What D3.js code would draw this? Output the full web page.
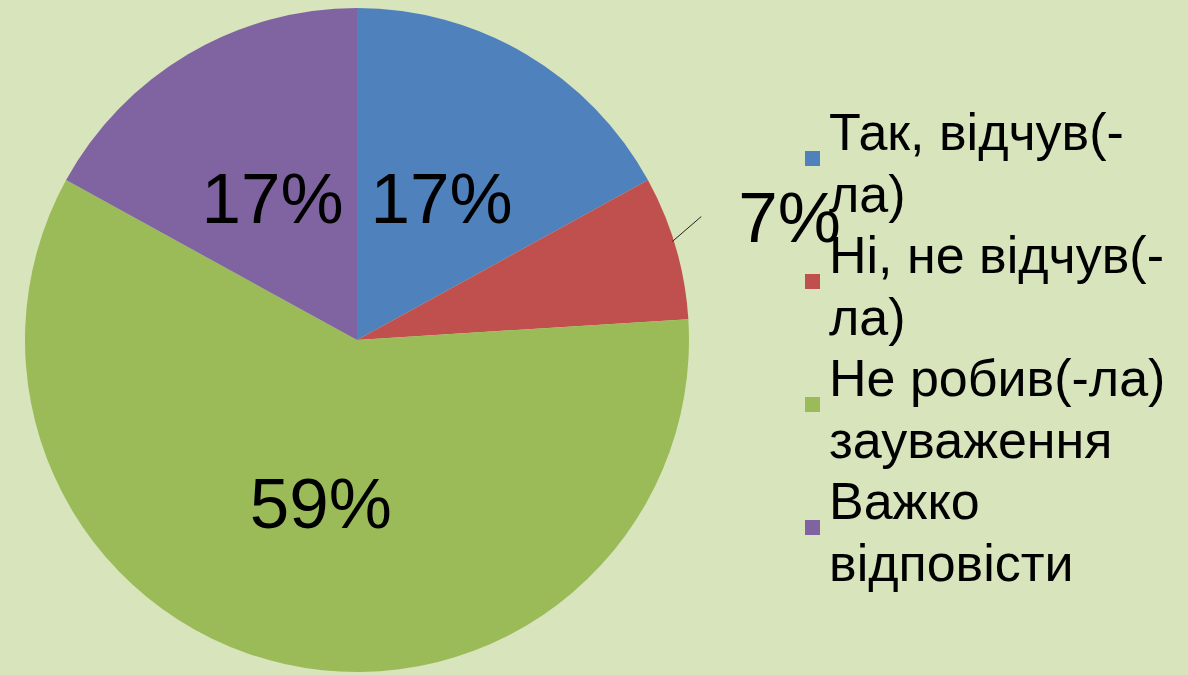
<!DOCTYPE html>
<html>
<head>
<meta charset="utf-8">
<script src="https://cdn.jsdelivr.net/npm/d3@7"></script>
<style>
  html, body { margin: 0; padding: 0; background: #d8e4bc; }
  svg { display: block; }
</style>
</head>
<body>
<div id="chart"></div>
<script>
// data
var categories = ["Так, відчув(-ла)", "Ні, не відчув(-ла)", "Не робив(-ла) зауваження", "Важко відповісти"];
var values = [17, 7, 59, 17];
var legendLines = [["Так, відчув(-", "ла)"], ["Ні, не відчув(-", "ла)"], ["Не робив(-ла)", "зауваження"], ["Важко", "відповісти"]];
var colors = ["#4f81bd", "#c0504d", "#9bbb59", "#8064a2"];

var width = 1188, height = 675;
var cx = 357, cy = 340, radius = 332;
var font = "Liberation Sans, Arial, sans-serif";

var svg = d3.select("#chart")
  .append("svg")
  .attr("width", width)
  .attr("height", height)
  .attr("viewBox", [0, 0, width, height]);

svg.append("rect")
  .attr("width", width)
  .attr("height", height)
  .attr("fill", "#d8e4bc");

var dat = values.map(function (v, i) { return { name: categories[i], value: v, i: i }; });

var pie = d3.pie().value(d => d.value).sort(null);
var arcs = pie(dat);
var arc = d3.arc().innerRadius(0).outerRadius(radius);

var g = svg.append("g").attr("transform", "translate(" + cx + "," + cy + ")");

g.selectAll(".slice")
  .data(arcs)
  .join("path")
  .attr("class", "slice")
  .attr("d", arc)
  .attr("fill", d => colors[d.data.i]);

// labels; the small slice gets its label outside with a leader line
var labelArc = d3.arc().innerRadius(radius * 0.5).outerRadius(radius * 0.5);
var pctFmt = d => d.data.value + "%";

arcs.forEach(function (d) {
  if (d.data.value < 10) {
    var mid = (d.startAngle + d.endAngle) / 2 - 0.02;
    var p0 = [Math.sin(mid) * radius * 0.995, -Math.cos(mid) * radius * 0.995];
    var p1 = [p0[0] + 29, p0[1] - 25];
    g.append("line")
      .attr("x1", p0[0]).attr("y1", p0[1])
      .attr("x2", p1[0]).attr("y2", p1[1])
      .attr("stroke", "#222").attr("stroke-width", 1);
    g.append("text")
      .attr("x", p1[0] + 37).attr("y", p0[1])
      .attr("font-family", font)
      .attr("font-size", 71)
      .attr("fill", "#000")
      .text(pctFmt(d));
    return;
  }
  var c = labelArc.centroid(d);
  g.append("text")
    .attr("x", c[0]).attr("y", c[1])
    .attr("dy", "0.36em")
    .attr("text-anchor", "middle")
    .attr("font-family", font)
    .attr("font-size", 71)
    .attr("fill", "#000")
    .text(pctFmt(d));
});

// legend
var legend = svg.append("g").attr("transform", "translate(805,0)");
var lineH = 61.5, firstBase = 150;
legendLines.forEach(function (lines, i) {
  var base = firstBase + i * 2 * lineH;
  legend.append("rect")
    .attr("x", 0)
    .attr("y", base + 1)
    .attr("width", 15)
    .attr("height", 15)
    .attr("fill", colors[i]);
  lines.forEach(function (t, j) {
    legend.append("text")
      .attr("x", 24)
      .attr("y", base + j * lineH)
      .attr("font-family", font)
      .attr("font-size", 52)
      .attr("fill", "#000")
      .text(t);
  });
});
</script>
</body>
</html>
